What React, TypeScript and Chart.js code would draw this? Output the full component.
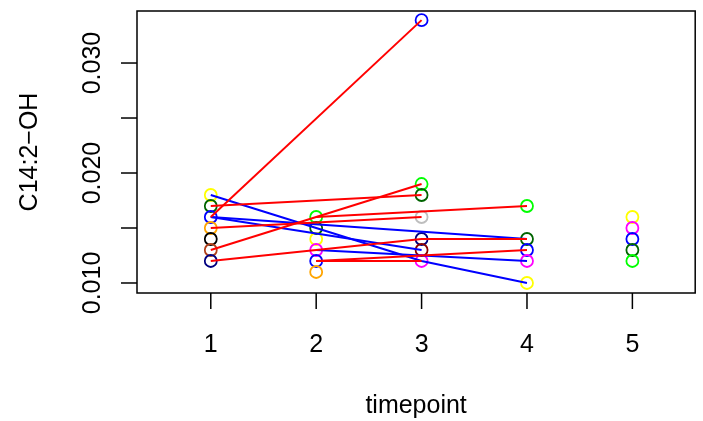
import React, { useEffect, useRef } from "react";
import { Chart, registerables } from "chart.js";

Chart.register(...registerables);

// ---- data ----
const timepoints = [1, 2, 3, 4, 5];
const xTicks = [1, 2, 3, 4, 5];
const yTicks = [0.01, 0.015, 0.02, 0.025, 0.03];
const yTickLabels = ["0.010", "", "0.020", "", "0.030"];
const xTitle = "timepoint";
const yTitle = "C14:2\u2212OH";

// points observed at each timepoint
const t1Values = [0.018, 0.017, 0.016, 0.015, 0.014, 0.013, 0.012];
const t2Values = [0.016, 0.015, 0.014, 0.013, 0.012, 0.011];
const t3Values = [0.0339, 0.019, 0.018, 0.016, 0.014, 0.013, 0.012];
const t4Values = [0.017, 0.014, 0.013, 0.012, 0.01];
const t5Values = [0.016, 0.015, 0.014, 0.013, 0.012];

const t1Colors = ["#FFFF00", "#006400", "#0000FF", "#FFA500", "#000000", "#B0401A", "#000080"];
const t2Colors = ["#00FF00", "#006400", "#FFFF00", "#FF00FF", "#0000FF", "#FFA500"];
const t3Colors = ["#0000FF", "#00FF00", "#006400", "#BEBEBE", "#000080", "#8B0000", "#FF00FF"];
const t4Colors = ["#00FF00", "#006400", "#0000FF", "#FF00FF", "#FFFF00"];
const t5Colors = ["#FFFF00", "#FF00FF", "#0000FF", "#006400", "#00FF00"];

// subject trajectories (value per timepoint, null = missing)
const red1 = [0.016, null, 0.0339, null, null];
const red2 = [0.017, null, 0.018, null, null];
const red3 = [0.013, null, 0.019, null, null];
const red4 = [0.015, null, 0.016, null, null];
const red5 = [0.012, null, 0.014, 0.014, null];
const red6 = [null, 0.016, null, 0.017, null];
const red7 = [null, 0.012, null, 0.013, null];
const red8 = [null, 0.012, 0.012, null, null];

const blue1 = [0.018, null, 0.012, 0.01, null];
const blue2 = [0.016, null, null, 0.014, null];
const blue3 = [null, 0.013, null, 0.012, null];
const blue4 = [0.016, null, 0.013, null, null];

const redLines = [red1, red2, red3, red4, red5, red6, red7, red8];
const blueLines = [blue1, blue2, blue3, blue4];

const pointSets = [
  { t: 1, values: t1Values, colors: t1Colors },
  { t: 2, values: t2Values, colors: t2Colors },
  { t: 3, values: t3Values, colors: t3Colors },
  { t: 4, values: t4Values, colors: t4Colors },
  { t: 5, values: t5Values, colors: t5Colors },
];

const FONT = '"Liberation Sans", Arial, Helvetica, sans-serif';

const toXY = (arr: (number | null)[]) =>
  timepoints
    .map((t, i) => ({ x: t, y: arr[i] }))
    .filter((p) => p.y !== null) as { x: number; y: number }[];

const axesPlugin = {
  id: "rAxes",
  afterDraw(chart: any) {
    const { ctx, chartArea } = chart;
    const { left, right, top, bottom } = chartArea;
    const xs = chart.scales.x;
    const ys = chart.scales.y;
    ctx.save();
    ctx.strokeStyle = "#000";
    ctx.lineWidth = 1.5;
    ctx.strokeRect(left, top, right - left, bottom - top);

    ctx.fillStyle = "#000";
    ctx.font = `25px ${FONT}`;
    // x ticks
    ctx.textAlign = "center";
    ctx.textBaseline = "alphabetic";
    xTicks.forEach((v) => {
      const px = xs.getPixelForValue(v);
      ctx.beginPath();
      ctx.moveTo(px, bottom);
      ctx.lineTo(px, bottom + 16);
      ctx.stroke();
      ctx.fillText(String(v), px, 352);
    });
    // y ticks
    yTicks.forEach((v, i) => {
      const py = ys.getPixelForValue(v);
      ctx.beginPath();
      ctx.moveTo(left, py);
      ctx.lineTo(left - 16, py);
      ctx.stroke();
      if (yTickLabels[i]) {
        ctx.save();
        ctx.translate(100, py);
        ctx.rotate(-Math.PI / 2);
        ctx.fillText(yTickLabels[i], 0, 0);
        ctx.restore();
      }
    });
    // titles
    ctx.fillText(xTitle, (left + right) / 2, 413);
    ctx.save();
    ctx.translate(37, (top + bottom) / 2);
    ctx.rotate(-Math.PI / 2);
    ctx.fillText(yTitle, 0, 0);
    ctx.restore();
    ctx.restore();
  },
};

export default function App() {
  const ref = useRef<HTMLCanvasElement | null>(null);
  useEffect(() => {
    if (!ref.current) return;
    const datasets: any[] = [];
    redLines.forEach((l, i) =>
      datasets.push({
        type: "line",
        label: `red${i + 1}`,
        data: toXY(l),
        borderColor: "#FF0000",
        borderWidth: 2,
        pointRadius: 0,
        showLine: true,
        fill: false,
        order: 1,
      })
    );
    blueLines.forEach((l, i) =>
      datasets.push({
        type: "line",
        label: `blue${i + 1}`,
        data: toXY(l),
        borderColor: "#0000FF",
        borderWidth: 2,
        pointRadius: 0,
        showLine: true,
        fill: false,
        order: 1,
      })
    );
    pointSets.forEach((s) =>
      datasets.push({
        type: "scatter",
        label: `t${s.t}`,
        data: s.values.map((v) => ({ x: s.t, y: v })),
        pointBorderColor: s.colors,
        pointBackgroundColor: "rgba(0,0,0,0)",
        pointRadius: 6,
        pointBorderWidth: 1.8,
        showLine: false,
        order: 2,
      })
    );
    const chart = new Chart(ref.current, {
      type: "scatter",
      data: { datasets },
      options: {
        animation: false,
        responsive: true,
        maintainAspectRatio: false,
        layout: { padding: { left: 137, right: 6, top: 11, bottom: 128 } },
        plugins: { legend: { display: false }, tooltip: { enabled: false } },
        scales: {
          x: { type: "linear", display: false, min: 0.3, max: 5.596 },
          y: { type: "linear", display: false, min: 0.00909, max: 0.03473 },
        },
      },
      plugins: [axesPlugin],
    });
    return () => chart.destroy();
  }, []);
  return (
    <div style={{ position: "fixed", left: 0, top: 0, width: 703, height: 421, background: "#fff" }}>
      <canvas ref={ref} />
    </div>
  );
}
